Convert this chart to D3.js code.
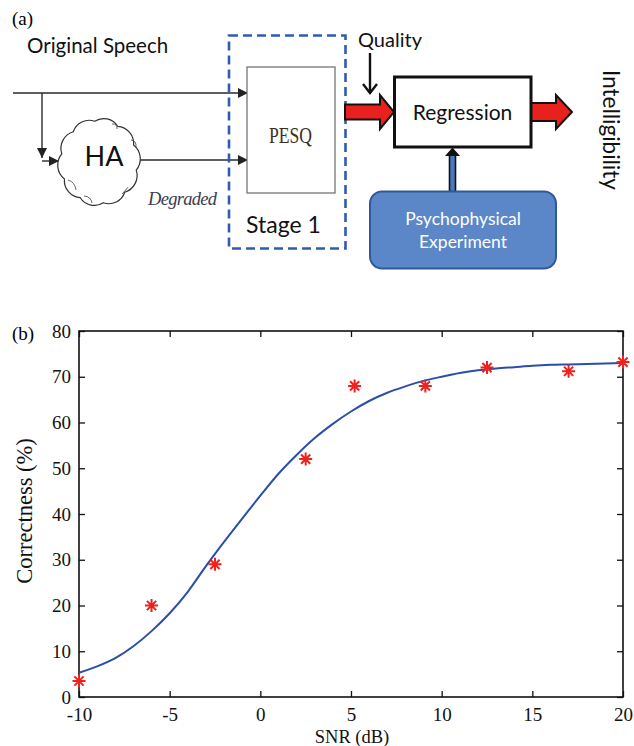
<!DOCTYPE html>
<html>
<head>
<meta charset="utf-8">
<script src="https://cdn.jsdelivr.net/npm/d3@7/dist/d3.min.js"></script>
<style>
  html, body { margin: 0; padding: 0; background: #fff; }
  svg { display: block; }
</style>
</head>
<body>
<svg id="fig" width="634" height="746"></svg>
<script>
// ---------------- DATA ----------------
const snrTicks = [-10, -5, 0, 5, 10, 15, 20];
const correctnessTicks = [0, 10, 20, 30, 40, 50, 60, 70, 80];

// measured points (red asterisks)
const measuredSNR = [-10, -6, -2.5, 2.5, 5.2, 9.1, 12.5, 17, 20];
const measuredCorrect = [3.5, 20, 29, 52, 68, 68, 72, 71.2, 73.2];

// fitted curve (blue line)
const fitSNR = [-10, -9, -8, -7, -6, -5, -4, -3, -2, -1, 0, 1, 2, 3, 4, 5, 6, 7, 8, 9, 10, 11, 12, 13, 14, 15, 16, 17, 18, 19, 20];
const fitCorrect = [5.3, 6.7, 8.5, 11.1, 14.4, 18.3, 23.0, 28.6, 33.9, 39.0, 44.0, 48.8, 52.9, 56.6, 59.7, 62.4, 64.7, 66.5, 67.9, 69.1, 70.0, 70.8, 71.4, 71.8, 72.1, 72.4, 72.6, 72.7, 72.8, 72.9, 73.0];

// ---------------- SETUP ----------------
const svg = d3.select("#fig");
const SANS = "Lato, 'Open Sans', sans-serif";
const SERIF = "'Liberation Serif', 'Times New Roman', serif";

const defs = svg.append("defs");
defs.append("marker").attr("id", "tri").attr("viewBox", "0 0 10 10")
  .attr("refX", 10).attr("refY", 5).attr("markerWidth", 10).attr("markerHeight", 10)
  .attr("markerUnits", "userSpaceOnUse").attr("orient", "auto")
  .append("path").attr("d", "M0,0 L10,5 L0,10 Z").attr("fill", "#222");

// ================= PANEL (a) =================
const a = svg.append("g");
a.append("text").attr("x", 12).attr("y", 25).attr("font-family", SERIF).attr("font-size", 19).text("(a)");
a.append("text").attr("x", 27).attr("y", 53).attr("font-family", SANS).attr("font-size", 20.5).attr("fill", "#111").text("Original Speech");

const lineCol = "#2a2a2a";
a.append("line").attr("x1", 13).attr("y1", 93).attr("x2", 248).attr("y2", 93)
  .attr("stroke", lineCol).attr("stroke-width", 1.4).attr("marker-end", "url(#tri)");
a.append("line").attr("x1", 42).attr("y1", 93).attr("x2", 42).attr("y2", 158)
  .attr("stroke", lineCol).attr("stroke-width", 1.4).attr("marker-end", "url(#tri)");
a.append("line").attr("x1", 42).attr("y1", 161).attr("x2", 59).attr("y2", 161)
  .attr("stroke", lineCol).attr("stroke-width", 1.4).attr("marker-end", "url(#tri)");
a.append("line").attr("x1", 140).attr("y1", 160).attr("x2", 248).attr("y2", 160)
  .attr("stroke", lineCol).attr("stroke-width", 1.4).attr("marker-end", "url(#tri)");

// cloud
(function cloud() {
  const cx = 99, cy = 162, rx = 38, ry = 41, n = 10;
  let d = "";
  const pts = d3.range(n + 1).map(i => {
    const t = -Math.PI + 0.2 + i * 2 * Math.PI / n;
    return [cx + rx * Math.cos(t), cy + ry * Math.sin(t)];
  });
  d += `M${pts[0][0]},${pts[0][1]}`;
  for (let i = 1; i < pts.length; i++) {
    const [x0, y0] = pts[i - 1], [x1, y1] = pts[i];
    const chord = Math.hypot(x1 - x0, y1 - y0);
    const r = chord * 0.7;
    d += ` A${r},${r} 0 0 1 ${x1},${y1}`;
  }
  d += " Z";
  a.append("path").attr("d", d).attr("fill", "#fff").attr("stroke", "#333").attr("stroke-width", 1.2);
  [[68, 180, 76, 190], [84, 196, 92, 203], [122, 194, 128, 187], [131, 140, 136, 147], [112, 124, 117, 129]].forEach(c => {
    a.append("path").attr("d", `M${c[0]},${c[1]} Q${(c[0]+c[2])/2 + 3},${(c[1]+c[3])/2 - 3} ${c[2]},${c[3]}`)
      .attr("fill", "none").attr("stroke", "#555").attr("stroke-width", 0.9);
  });
})();
a.append("text").attr("x", 104).attr("y", 166).attr("text-anchor", "middle")
  .attr("font-family", SANS).attr("font-size", 27).attr("fill", "#111").text("HA");

a.append("text").attr("x", 148).attr("y", 205).attr("font-family", SERIF).attr("font-style", "italic")
  .attr("font-size", 18.5).attr("fill", "#3a3d4e").attr("textLength", 69).text("Degraded");

// PESQ box
a.append("rect").attr("x", 247).attr("y", 67).attr("width", 88).attr("height", 126)
  .attr("fill", "#fff").attr("stroke", "#6a6a6a").attr("stroke-width", 1.2);
a.append("text").attr("x", 269).attr("y", 143).attr("font-family", SERIF).attr("font-size", 23)
  .attr("fill", "#3b2f25").attr("textLength", 43).attr("lengthAdjust", "spacingAndGlyphs").text("PESQ");

// dashed stage box
a.append("rect").attr("x", 229).attr("y", 35.5).attr("width", 116.5).attr("height", 213)
  .attr("fill", "none").attr("stroke", "#2f5bb3").attr("stroke-width", 2.6).attr("stroke-dasharray", "9,5");
a.append("text").attr("x", 246).attr("y", 233).attr("font-family", SANS).attr("font-size", 23).attr("fill", "#111").text("Stage 1");

// Quality label + arrow
a.append("text").attr("x", 358).attr("y", 47).attr("font-family", SANS).attr("font-size", 20).attr("fill", "#111").text("Quality");
a.append("line").attr("x1", 370).attr("y1", 53).attr("x2", 370).attr("y2", 93).attr("stroke", "#111").attr("stroke-width", 2.4);
a.append("path").attr("d", "M363,84 L370,93 L377,84").attr("fill", "none").attr("stroke", "#111").attr("stroke-width", 2.4);

function fatArrow(x0, x1, cy, shaftH, headH, headL) {
  const s = shaftH / 2, h = headH / 2, xb = x1 - headL;
  return `M${x0},${cy - s} L${xb},${cy - s} L${xb},${cy - h} L${x1},${cy} L${xb},${cy + h} L${xb},${cy + s} L${x0},${cy + s} Z`;
}
a.append("path").attr("d", fatArrow(345, 394, 112, 15, 34, 14)).attr("fill", "#e8201e").attr("stroke", "#111").attr("stroke-width", 2);
a.append("path").attr("d", fatArrow(531, 572, 112, 18, 34, 16)).attr("fill", "#e8201e").attr("stroke", "#111").attr("stroke-width", 2);

// Regression box
a.append("rect").attr("x", 394.5).attr("y", 77).attr("width", 136.5).attr("height", 70)
  .attr("fill", "#fff").attr("stroke", "#111").attr("stroke-width", 3);
a.append("text").attr("x", 462.5).attr("y", 120).attr("text-anchor", "middle").attr("font-family", SANS)
  .attr("font-size", 21).attr("fill", "#111").text("Regression");

a.append("text").attr("transform", "translate(603,70) rotate(90)").attr("font-family", SANS)
  .attr("font-size", 22.5).attr("fill", "#111").text("Intelligibility");

a.append("rect").attr("x", 449.5).attr("y", 153).attr("width", 6).attr("height", 39)
  .attr("fill", "#4a78c0").attr("stroke", "#111").attr("stroke-width", 1.6);
a.append("path").attr("d", "M445,156 L452.5,147.5 L460,156 Z").attr("fill", "#111");

a.append("rect").attr("x", 370).attr("y", 191.5).attr("width", 186).attr("height", 77).attr("rx", 12)
  .attr("fill", "#5b87c8").attr("stroke", "#30599c").attr("stroke-width", 2);
a.append("text").attr("x", 463).attr("y", 225).attr("text-anchor", "middle").attr("font-family", SANS)
  .attr("font-size", 17.5).attr("fill", "#fff").text("Psychophysical");
a.append("text").attr("x", 463).attr("y", 248).attr("text-anchor", "middle").attr("font-family", SANS)
  .attr("font-size", 17.5).attr("fill", "#fff").text("Experiment");

// ================= PANEL (b) =================
const L = 79, R = 623, T = 331, B = 697;
const x = d3.scaleLinear().domain([-10, 20]).range([L, R]);
const y = d3.scaleLinear().domain([0, 80]).range([B, T]);
const b = svg.append("g");

b.append("text").attr("x", 12).attr("y", 340).attr("font-family", SERIF).attr("font-size", 19).text("(b)");

const tickLen = 6;
function styleAxis(g, hideText) {
  g.select(".domain").remove();
  g.selectAll(".tick line").attr("stroke", "#111").attr("stroke-width", 1.3);
  g.selectAll(".tick text").attr("font-family", SERIF).attr("font-size", 19).attr("fill", "#111");
  if (hideText) g.selectAll(".tick text").remove();
}
b.append("g").attr("transform", `translate(0,${B})`)
  .call(d3.axisBottom(x).tickValues(snrTicks).tickSize(-tickLen).tickPadding(11).tickFormat(d3.format("d")))
  .call(g => styleAxis(g, false));
b.append("g").attr("transform", `translate(0,${T})`)
  .call(d3.axisTop(x).tickValues(snrTicks).tickSize(-tickLen))
  .call(g => styleAxis(g, true));
b.append("g").attr("transform", `translate(${L},0)`)
  .call(d3.axisLeft(y).tickValues(correctnessTicks).tickSize(-tickLen).tickPadding(8).tickFormat(d3.format("d")))
  .call(g => styleAxis(g, false));
b.append("g").attr("transform", `translate(${R},0)`)
  .call(d3.axisRight(y).tickValues(correctnessTicks).tickSize(-tickLen))
  .call(g => styleAxis(g, true));

b.selectAll("text").filter(function() { return this.textContent.startsWith("−"); })
  .text(function() { return this.textContent.replace("−", "-"); });

b.append("rect").attr("x", L).attr("y", T).attr("width", R - L).attr("height", B - T)
  .attr("fill", "none").attr("stroke", "#111").attr("stroke-width", 1.6);

const fit = fitSNR.map((s, i) => [s, fitCorrect[i]]);
b.append("path").datum(fit)
  .attr("d", d3.line().x(d => x(d[0])).y(d => y(d[1])).curve(d3.curveMonotoneX))
  .attr("fill", "none").attr("stroke", "#2b4ea8").attr("stroke-width", 2);

const starR = 6.5;
function asterisk(cx, cy) {
  const k = starR * Math.SQRT1_2;
  return `M${cx - starR},${cy} L${cx + starR},${cy} M${cx},${cy - starR} L${cx},${cy + starR}` +
         ` M${cx - k},${cy - k} L${cx + k},${cy + k} M${cx - k},${cy + k} L${cx + k},${cy - k}`;
}
b.selectAll(".pt").data(measuredSNR.map((s, i) => [s, measuredCorrect[i]])).enter()
  .append("path").attr("class", "pt")
  .attr("d", d => asterisk(x(d[0]), y(d[1])))
  .attr("fill", "none").attr("stroke", "#f0201c").attr("stroke-width", 2);

b.append("text").attr("x", (L + R) / 2 + 1).attr("y", 743).attr("text-anchor", "middle")
  .attr("font-family", SERIF).attr("font-size", 18.5).attr("fill", "#111").text("SNR (dB)");
b.append("text").attr("transform", `translate(32,511) rotate(-90)`).attr("text-anchor", "middle")
  .attr("font-family", SERIF).attr("font-size", 22.5).attr("fill", "#111").text("Correctness (%)");
</script>
</body>
</html>
